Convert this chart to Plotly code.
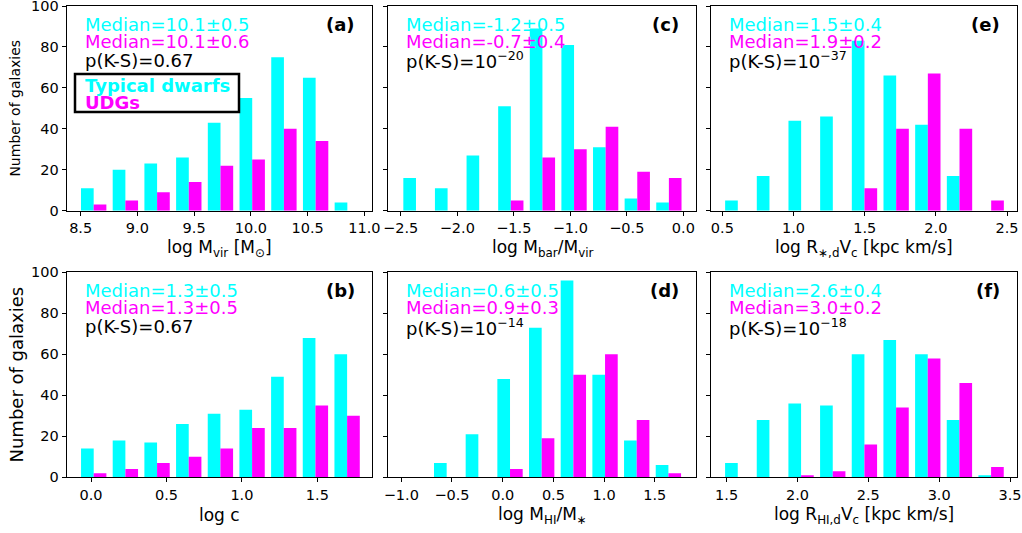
import numpy as np
import plotly.graph_objects as go

# ---------------- data ----------------
# bin ranges (first left edge, last right edge), 9 bins each
a_bins = (8.475, 10.99)
a_dwarfs = [11, 20, 23, 26, 43, 55, 75, 65, 4]
a_udgs = [3, 5, 9, 14, 22, 25, 40, 34, 0]

c_bins = (-2.505, 0.012)
c_dwarfs = [16, 11, 27, 51, 89, 81, 31, 6, 4]
c_udgs = [0, 0, 0, 5, 26, 30, 41, 19, 16]

e_bins = (0.497, 2.5)
e_dwarfs = [5, 17, 44, 46, 83, 66, 42, 17, 0]
e_udgs = [0, 0, 0, 0, 11, 40, 67, 40, 5]

b_bins = (-0.087, 1.802)
b_dwarfs = [14, 18, 17, 26, 31, 33, 49, 68, 60]
b_udgs = [2, 4, 7, 10, 14, 24, 24, 35, 30]

d_bins = (-1.021, 1.79)
d_dwarfs = [0, 7, 21, 48, 73, 96, 50, 18, 6]
d_udgs = [0, 0, 0, 4, 19, 50, 60, 28, 2]

f_bins = (1.467, 3.478)
f_dwarfs = [7, 28, 36, 35, 60, 67, 60, 28, 1]
f_udgs = [0, 0, 1, 3, 16, 34, 58, 46, 5]

y_ticks = [0, 20, 40, 60, 80, 100]

panels = [
    dict(tag="(a)", bins=a_bins, dw=a_dwarfs, ud=a_udgs,
         m1="Median=10.1±0.5", m2="Median=10.1±0.6", pks="p(K-S)=0.67",
         xt="log M<sub>vir</sub> [M<sub>⊙</sub>]", xr=[8.377, 11.065], row=0, col=0),
    dict(tag="(c)", bins=c_bins, dw=c_dwarfs, ud=c_udgs,
         m1="Median=-1.2±0.5", m2="Median=-0.7±0.4", pks="p(K-S)=10<sup>−20</sup>",
         xt="log M<sub>bar</sub>/M<sub>vir</sub>", xr=[-2.61, 0.112], row=0, col=1),
    dict(tag="(e)", bins=e_bins, dw=e_dwarfs, ud=e_udgs,
         m1="Median=1.5±0.4", m2="Median=1.9±0.2", pks="p(K-S)=10<sup>−37</sup>",
         xt="log R<sub>∗,d</sub>V<sub>c</sub> [kpc km/s]", xr=[0.42, 2.568], row=0, col=2),
    dict(tag="(b)", bins=b_bins, dw=b_dwarfs, ud=b_udgs,
         m1="Median=1.3±0.5", m2="Median=1.3±0.5", pks="p(K-S)=0.67",
         xt="log c", xr=[-0.161, 1.86], row=1, col=0),
    dict(tag="(d)", bins=d_bins, dw=d_dwarfs, ud=d_udgs,
         m1="Median=0.6±0.5", m2="Median=0.9±0.3", pks="p(K-S)=10<sup>−14</sup>",
         xt="log M<sub>HI</sub>/M<sub>∗</sub>", xr=[-1.128, 1.906], row=1, col=1),
    dict(tag="(f)", bins=f_bins, dw=f_dwarfs, ud=f_udgs,
         m1="Median=2.6±0.4", m2="Median=3.0±0.2", pks="p(K-S)=10<sup>−18</sup>",
         xt="log R<sub>HI,d</sub>V<sub>c</sub> [kpc km/s]", xr=[1.39, 3.547], row=1, col=2),
]

# ---------------- layout geometry ----------------
W, H = 1022, 533
col_px = [(66.7, 371.7), (388.3, 696.0), (711.0, 1016.7)]
row_px = [(6.0, 210.7), (272.3, 477.3)]

CYAN = "#00FFFF"
MAGENTA = "#FF00FF"
FONT = "DejaVu Sans"

fig = go.Figure()
layout = dict(
    width=W, height=H, autosize=False,
    margin=dict(l=0, r=0, t=0, b=0, pad=0),
    paper_bgcolor="white", plot_bgcolor="white",
    barmode="group", bargap=0.2, bargroupgap=0,
    showlegend=False,
    font=dict(family=FONT, color="black"),
)
annotations = []
shapes = []

for i, p in enumerate(panels):
    n = i + 1
    xa = "x" if n == 1 else f"x{n}"
    ya = "y" if n == 1 else f"y{n}"
    edges = np.linspace(p["bins"][0], p["bins"][1], len(p["dw"]) + 1)
    centers = 0.5 * (edges[:-1] + edges[1:])
    fig.add_trace(go.Bar(x=centers, y=p["dw"], marker=dict(color=CYAN, line=dict(width=0)),
                         xaxis=xa, yaxis=ya, name="Typical dwarfs"))
    fig.add_trace(go.Bar(x=centers, y=p["ud"], marker=dict(color=MAGENTA, line=dict(width=0)),
                         xaxis=xa, yaxis=ya, name="UDGs"))

    c0, c1 = col_px[p["col"]]
    r0, r1 = row_px[p["row"]]
    axis_common = dict(showline=True, mirror=True, linecolor="black", linewidth=1,
                       ticks="outside", ticklen=4, tickwidth=1, tickcolor="black",
                       showgrid=False, zeroline=False, automargin=False,
                       ticklabeloverflow="allow",
                       tickfont=dict(family=FONT, size=14.5, color="black"))
    layout["xaxis" if n == 1 else f"xaxis{n}"] = dict(
        domain=[c0 / W, c1 / W], range=p["xr"], anchor=ya,
        tickmode="linear", tick0=0, dtick=0.5, tickformat=".1f", **axis_common)
    layout["yaxis" if n == 1 else f"yaxis{n}"] = dict(
        domain=[1 - r1 / H, 1 - r0 / H], range=[0, 100], anchor=xa,
        tickmode="array", tickvals=y_ticks, showticklabels=(p["col"] == 0), **axis_common)

    ph = r1 - r0
    pw = c1 - c0
    xd = f"{xa} domain"
    yd = f"{ya} domain"
    tx = 16 / pw
    for txt, off, col in [(p["m1"], 18.5, CYAN), (p["m2"], 35.5, MAGENTA), (p["pks"], 54.5, "black")]:
        annotations.append(dict(text=txt, xref=xd, yref=yd, x=tx, y=1 - off / ph,
                                xanchor="left", yanchor="middle", showarrow=False,
                                font=dict(family=FONT, size=18, color=col)))
    annotations.append(dict(text=f"<b>{p['tag']}</b>", xref=xd, yref=yd, x=1 - 15 / pw, y=1 - 18.5 / ph,
                            xanchor="right", yanchor="middle", showarrow=False,
                            font=dict(family=FONT, size=18, color="black")))
    annotations.append(dict(text=p["xt"], xref=xd, yref=yd, x=0.5, y=-38 / ph,
                            xanchor="center", yanchor="middle", showarrow=False,
                            font=dict(family=FONT, size=17, color="black")))
    if n == 1:
        shapes.append(dict(type="rect", xref=xd, yref=yd,
                           x0=(75 - c0) / pw, x1=(239 - c0) / pw,
                           y0=1 - (112 - r0) / ph, y1=1 - (74 - r0) / ph,
                           line=dict(color="black", width=2.5), fillcolor="rgba(0,0,0,0)"))
        annotations.append(dict(text="<b>Typical dwarfs</b>", xref=xd, yref=yd, x=(83 - c0) / pw,
                                y=1 - (86 - r0) / ph, xanchor="left", yanchor="middle", showarrow=False,
                                font=dict(family=FONT, size=18, color=CYAN)))
        annotations.append(dict(text="<b>UDGs</b>", xref=xd, yref=yd, x=(83 - c0) / pw,
                                y=1 - (102.7 - r0) / ph, xanchor="left", yanchor="middle", showarrow=False,
                                font=dict(family=FONT, size=18, color=MAGENTA)))

# y-axis titles
annotations.append(dict(text="Number of galaxies", xref="paper", yref="paper",
                        x=15.3 / W, y=1 - 108.3 / H, xanchor="center", yanchor="middle",
                        textangle=-90, showarrow=False, font=dict(family=FONT, size=14, color="black")))
annotations.append(dict(text="Number of galaxies", xref="paper", yref="paper",
                        x=16.7 / W, y=1 - 374.8 / H, xanchor="center", yanchor="middle",
                        textangle=-90, showarrow=False, font=dict(family=FONT, size=18, color="black")))

layout["annotations"] = annotations
layout["shapes"] = shapes
fig.update_layout(**layout)
fig.write_html("out.html")
